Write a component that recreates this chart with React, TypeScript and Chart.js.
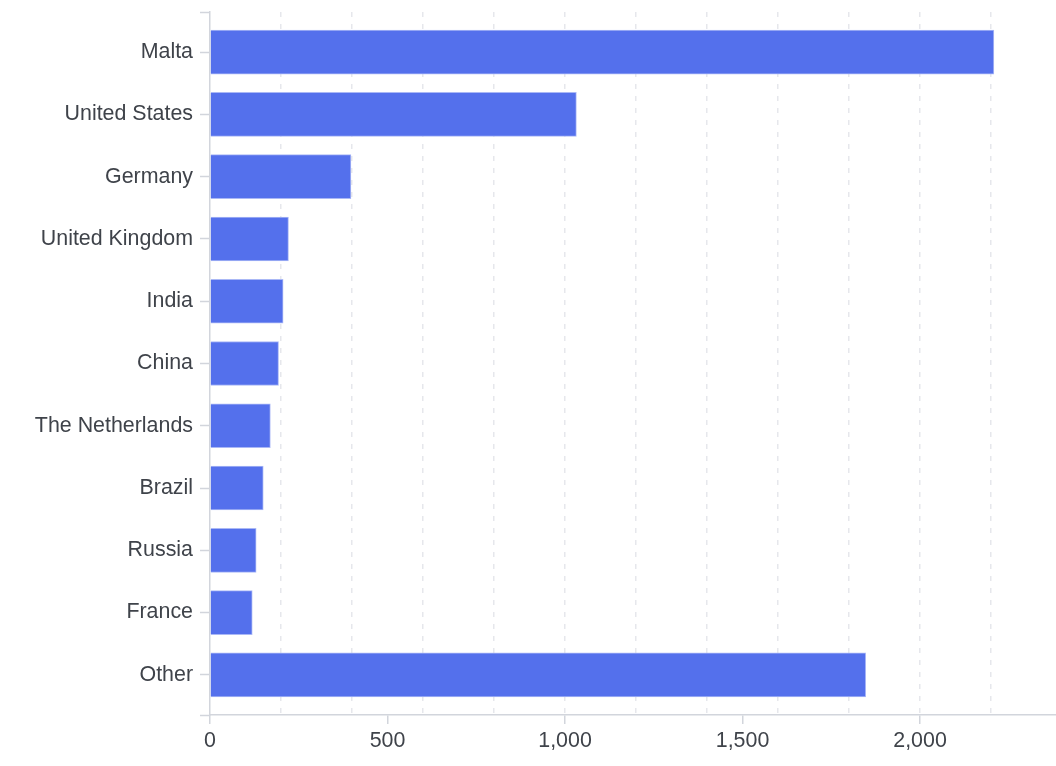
import React, { useEffect, useRef } from "react";
import { Chart, registerables } from "chart.js";

Chart.register(...registerables);

const categories = [
  "Malta",
  "United States",
  "Germany",
  "United Kingdom",
  "India",
  "China",
  "The Netherlands",
  "Brazil",
  "Russia",
  "France",
  "Other",
];
const values = [2208, 1032, 397, 221, 206, 193, 170, 150, 130, 119, 1847];
const xLabelStep = 500;
const xGridStep = 200;
const xMax = 2383;

export default function App() {
  const ref = useRef<HTMLCanvasElement | null>(null);

  useEffect(() => {
    document.body.style.margin = "0";
    const canvas = ref.current;
    if (!canvas) return;
    const yMin = -0.645;
    const yMax = categories.length - 1 + 0.645;
    const font = { family: "'Liberation Sans', Arial, sans-serif", size: 21.4 };
    const chart = new Chart(canvas, {
      type: "bar",
      data: {
        datasets: [
          {
            data: values.map((v, i) => ({ x: v, y: i })),
            backgroundColor: "rgb(84,112,236)",
            borderColor: "rgba(170,184,246,1)",
            borderWidth: 1,
            barThickness: 44,
          } as any,
        ],
      },
      options: {
        indexAxis: "y",
        animation: false,
        responsive: false,
        maintainAspectRatio: false,
        layout: { padding: { top: 12, right: 0, left: 0, bottom: 0 } },
        plugins: { legend: { display: false }, tooltip: { enabled: false } },
        scales: {
          x: {
            type: "linear",
            min: 0,
            max: xMax,
            offset: false,
            afterBuildTicks: (scale: any) => {
              const t: any[] = [];
              for (let v = 0; v <= xMax; v += 100) {
                if (v % xGridStep === 0 || v % xLabelStep === 0) t.push({ value: v });
              }
              scale.ticks = t;
            },
            afterFit: (scale: any) => {
              scale.height = 51;
              scale.paddingLeft = 0;
              scale.paddingRight = 0;
            },
            ticks: {
              autoSkip: false,
              maxRotation: 0,
              padding: 4,
              color: "#3f434a",
              font,
              callback: (value: any) =>
                Number(value) % xLabelStep === 0 ? Number(value).toLocaleString("en-US") : "",
            },
            grid: {
              offset: false,
              drawOnChartArea: true,
              drawTicks: true,
              tickLength: 9,
              lineWidth: 1.5,
              tickWidth: 1.5,
              color: (ctx: any) => {
                const v = ctx.tick ? ctx.tick.value : 0;
                return v > 0 && v % xGridStep === 0 ? "#e6e7ec" : "rgba(0,0,0,0)";
              },
              tickColor: (ctx: any) => {
                const v = ctx.tick ? ctx.tick.value : 0;
                return v % xLabelStep === 0 ? "#d2d5dc" : "rgba(0,0,0,0)";
              },
            } as any,
            border: { display: true, color: "#d2d5dc", width: 1.5, dash: [5, 7] },
          },
          y: {
            type: "linear",
            reverse: true,
            min: yMin,
            max: yMax,
            offset: false,
            afterBuildTicks: (scale: any) => {
              const t: any[] = [{ value: yMin }];
              categories.forEach((_, i) => t.push({ value: i }));
              t.push({ value: yMax });
              scale.ticks = t;
            },
            afterFit: (scale: any) => {
              scale.width = 210;
              scale.paddingTop = 0;
              scale.paddingBottom = 0;
            },
            ticks: {
              autoSkip: false,
              padding: 7,
              color: "#3f434a",
              font,
              callback: (value: any) => {
                const n = Number(value);
                return Number.isInteger(n) ? categories[n] : "";
              },
            },
            grid: {
              offset: false,
              drawOnChartArea: false,
              drawTicks: true,
              tickLength: 10,
              tickWidth: 1.5,
              tickColor: "#d2d5dc",
              color: "#d2d5dc",
            },
            border: { display: true, color: "#d2d5dc", width: 1.5 },
          },
        },
      },
    });
    return () => chart.destroy();
  }, []);

  return (
    <div style={{ width: 1056, height: 766 }}>
      <canvas ref={ref} width={1056} height={766} style={{ display: "block", width: 1056, height: 766 }} />
    </div>
  );
}
